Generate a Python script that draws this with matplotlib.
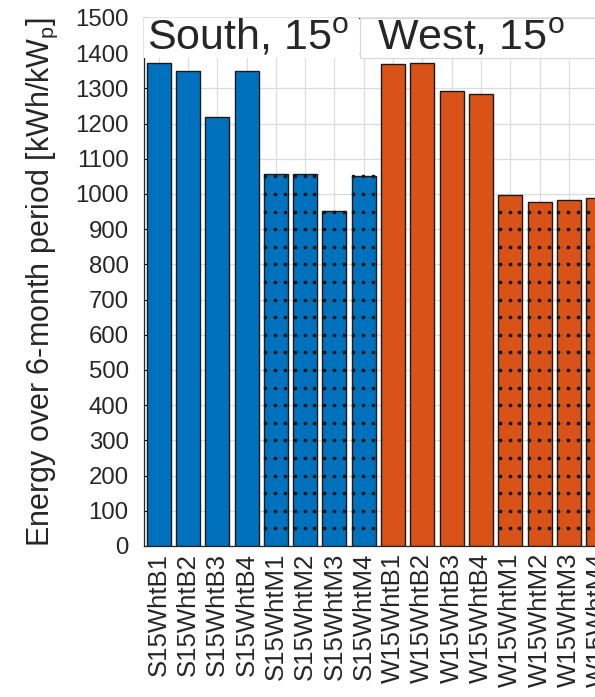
import numpy as np
import matplotlib.pyplot as plt
from matplotlib.patches import Rectangle

plt.rcParams['font.family'] = ['Liberation Sans', 'DejaVu Sans']
plt.rcParams['mathtext.fontset'] = 'custom'
plt.rcParams['mathtext.rm'] = 'Liberation Sans'
plt.rcParams['mathtext.it'] = 'Liberation Sans:italic'

# data
south_labels = ['S15WhtB1', 'S15WhtB2', 'S15WhtB3', 'S15WhtB4',
                'S15WhtM1', 'S15WhtM2', 'S15WhtM3', 'S15WhtM4']
south_values = [1372, 1350, 1218, 1350, 1056, 1056, 951, 1051]
west_labels = ['W15WhtB1', 'W15WhtB2', 'W15WhtB3', 'W15WhtB4',
               'W15WhtM1', 'W15WhtM2', 'W15WhtM3', 'W15WhtM4']
west_values = [1369, 1372, 1293, 1283, 996, 977, 984, 988]
y_ticks = list(range(0, 1501, 100))

BLUE = '#0072BD'
ORANGE = '#D95319'
TXT = '#262626'

def main():
    fig = plt.figure(figsize=(5.95, 6.97), dpi=100)
    W, H = 595, 697
    # axes runs past the right edge of the picture (chart is cropped)
    left, top, bottom = 144, 18, 546
    step = 29.3
    n = len(south_values) + len(west_values)
    ax = fig.add_axes([left / W, (H - bottom) / H, n * step / W, (bottom - top) / H])

    labels = south_labels + west_labels
    values = south_values + west_values
    colors = [BLUE] * len(south_values) + [ORANGE] * len(west_values)
    x = np.arange(1, n + 1)

    ax.bar(x, values, width=0.82, color=colors, edgecolor='#1a1a1a', linewidth=1.0, zorder=2)

    # dotted pattern on the M bars
    for xi, v, lab in zip(x, values, labels):
        if 'M' in lab[-2:]:
            rows = np.arange(50, v + 1, 50)
            for off in (-0.36, -0.02, 0.31):
                ax.plot(np.full(len(rows), xi + off), rows, linestyle='none',
                        marker='s', markersize=1.5, color='#151515', zorder=3)
            ax.hlines(rows, xi - 0.39, xi + 0.39, colors='#333333', linewidth=0.6,
                      linestyles=(0, (1, 4)), zorder=3, alpha=0.5)

    ax.set_xlim(0.5, n + 0.5)
    ax.set_ylim(0, 1500)
    ax.set_yticks(y_ticks)
    ax.set_xticks(x)
    ax.set_xticklabels(labels, rotation=90, fontsize=18.5, color=TXT)
    ax.tick_params(axis='y', labelsize=17.3, labelcolor=TXT, direction='in',
                   length=4, pad=11)
    ax.tick_params(axis='x', direction='in', length=0, pad=5)
    ax.grid(True, color='#dcdcdc', linewidth=0.9, zorder=0)
    ax.set_axisbelow(True)
    for s in ax.spines.values():
        s.set_color(TXT)
        s.set_linewidth(0.9)

    ax.set_ylabel('Energy over 6-month period [kWh/kW$_\\mathrm{p}$]', fontsize=22,
                  color=TXT, labelpad=11)

    # title boxes inside the top of the axes
    ax.add_patch(Rectangle((0.5, 1385), 7.35, 116, facecolor='white', edgecolor='none',
                           zorder=4, clip_on=False))
    ax.add_patch(Rectangle((7.88, 1385), 9, 116, facecolor='white', edgecolor='#d8d8d8',
                           linewidth=0.9, zorder=4))
    ax.text(0.6, 1410, 'South, 15$^{\\mathrm{o}}$', fontsize=31, color=TXT,
            ha='left', va='baseline', zorder=5)
    ax.text(8.45, 1410, 'West, 15$^{\\mathrm{o}}$', fontsize=31, color=TXT,
            ha='left', va='baseline', zorder=5)

    fig.savefig('out.png', dpi=100)

if __name__ == '__main__':
    main()
